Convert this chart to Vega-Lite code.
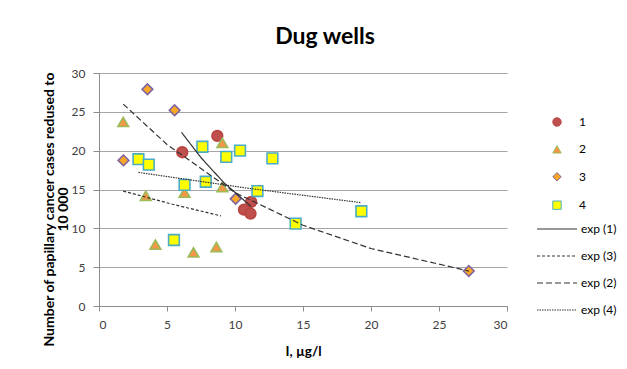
{
  "$schema": "https://vega.github.io/schema/vega-lite/v6.json",
  "width": 408,
  "height": 233,
  "autosize": {"type": "none"},
  "padding": {"left": 99, "top": 73, "right": 120, "bottom": 63},
  "background": "white",
  "title": {"text": "Dug wells", "fontSize": 23, "font": "Lato", "fontWeight": "bold", "color": "#000000", "dx": 22, "offset": 18, "anchor": "middle"},
  "datasets": {
    "pts": [
      {"x": 6.12, "y": 19.8, "series": "1"},
      {"x": 8.7, "y": 21.9, "series": "1"},
      {"x": 11.19, "y": 13.4, "series": "1"},
      {"x": 10.66, "y": 12.4, "series": "1"},
      {"x": 11.14, "y": 11.9, "series": "1"},
      {"x": 1.78, "y": 23.7, "series": "2"},
      {"x": 9.07, "y": 21.0, "series": "2"},
      {"x": 3.44, "y": 14.2, "series": "2"},
      {"x": 6.29, "y": 14.6, "series": "2"},
      {"x": 9.07, "y": 15.3, "series": "2"},
      {"x": 4.15, "y": 7.9, "series": "2"},
      {"x": 6.95, "y": 6.9, "series": "2"},
      {"x": 8.63, "y": 7.6, "series": "2"},
      {"x": 3.56, "y": 27.9, "series": "3"},
      {"x": 5.56, "y": 25.2, "series": "3"},
      {"x": 1.8, "y": 18.75, "series": "3"},
      {"x": 10.05, "y": 13.8, "series": "3"},
      {"x": 27.19, "y": 4.5, "series": "3"},
      {"x": 2.9, "y": 18.9, "series": "4"},
      {"x": 3.66, "y": 18.2, "series": "4"},
      {"x": 6.29, "y": 15.6, "series": "4"},
      {"x": 7.85, "y": 16.0, "series": "4"},
      {"x": 7.6, "y": 20.5, "series": "4"},
      {"x": 9.36, "y": 19.2, "series": "4"},
      {"x": 10.37, "y": 20.0, "series": "4"},
      {"x": 12.75, "y": 19.0, "series": "4"},
      {"x": 11.65, "y": 14.8, "series": "4"},
      {"x": 5.51, "y": 8.5, "series": "4"},
      {"x": 14.46, "y": 10.6, "series": "4"},
      {"x": 19.29, "y": 12.2, "series": "4"}
    ],
    "fits": [
      {"x": 6.07, "y": 22.35, "fit": "exp (1)"},
      {"x": 7.5, "y": 19.1, "fit": "exp (1)"},
      {"x": 9.17, "y": 15.9, "fit": "exp (1)"},
      {"x": 11.19, "y": 12.8, "fit": "exp (1)"},
      {"x": 1.78, "y": 14.8, "fit": "exp (3)"},
      {"x": 5.4, "y": 13.1, "fit": "exp (3)"},
      {"x": 8.97, "y": 11.6, "fit": "exp (3)"},
      {"x": 1.78, "y": 26.0, "fit": "exp (2)"},
      {"x": 5, "y": 20.8, "fit": "exp (2)"},
      {"x": 10, "y": 14.6, "fit": "exp (2)"},
      {"x": 15, "y": 10.4, "fit": "exp (2)"},
      {"x": 20, "y": 7.4, "fit": "exp (2)"},
      {"x": 27.2, "y": 4.5, "fit": "exp (2)"},
      {"x": 2.9, "y": 17.2, "fit": "exp (4)"},
      {"x": 11, "y": 15.15, "fit": "exp (4)"},
      {"x": 19.29, "y": 13.3, "fit": "exp (4)"}
    ]
  },
  "encoding": {
    "x": {"field": "x", "type": "quantitative", "scale": {"domain": [0, 30], "nice": false},
      "axis": {"title": "I, µg/l", "values": [0, 5, 10, 15, 20, 25, 30], "grid": false}},
    "y": {"field": "y", "type": "quantitative", "scale": {"domain": [0, 30], "nice": false},
      "axis": {"title": ["Number of papillary cancer cases redused to", "10 000"], "values": [0, 5, 10, 15, 20, 25, 30], "grid": true, "titleY": 136, "titleLineHeight": 14, "titleFontSize": 14}}
  },
  "layer": [
    {
      "data": {"name": "pts"},
      "mark": {"type": "point", "filled": true, "strokeWidth": 1.6, "opacity": 1, "size": 115},
      "encoding": {
        "shape": {"field": "series", "type": "nominal",
          "scale": {"domain": ["1", "2", "3", "4"], "range": ["circle", "triangle-up", "diamond", "square"]},
          "legend": {"title": null, "orient": "none", "legendX": 452, "legendY": 43, "symbolSize": 70, "labelOffset": 16, "rowPadding": 14.4, "labelFontSize": 12, "labelFont": "Lato", "labelColor": "#000000", "symbolStrokeWidth": 1}},
        "fill": {"field": "series", "type": "nominal",
          "scale": {"domain": ["1", "2", "3", "4"], "range": ["#C0504D", "#F79646", "#F9A825", "#FFFF00"]}},
        "stroke": {"field": "series", "type": "nominal",
          "scale": {"domain": ["1", "2", "3", "4"], "range": ["#B8433F", "#9BBB59", "#8064A2", "#4BACC6"]}}
      }
    },
    {
      "data": {"name": "fits"},
      "mark": {"type": "line", "color": "#333333", "strokeWidth": 1.2},
      "encoding": {
        "order": {"field": "x", "type": "quantitative"},
        "strokeDash": {"field": "fit", "type": "nominal",
          "scale": {"domain": ["exp (1)", "exp (3)", "exp (2)", "exp (4)"], "range": [[1, 0], [3, 2], [6, 3], [1.5, 1]]},
          "legend": {"title": null, "orient": "none", "legendX": 437, "legendY": 135, "symbolType": "stroke", "symbolSize": 1600, "symbolStrokeColor": "#333333", "symbolStrokeWidth": 1.2, "labelOffset": 3, "rowPadding": -2.7, "labelFontSize": 12, "labelFont": "Lato", "labelColor": "#000000"}}
      }
    }
  ],
  "config": {
    "font": "Lato",
    "view": {"stroke": null},
    "axis": {
      "domainColor": "#8C8C8C",
      "tickColor": "#8C8C8C",
      "gridColor": "#A6A6A6",
      "gridWidth": 1,
      "labelFontSize": 12,
      "labelColor": "#404040",
      "labelFont": "Lato",
      "titleFont": "Lato",
      "titleFontSize": 13.5,
      "titleFontWeight": "bold",
      "titleColor": "#000000"
    },
    "axisX": {"tickSize": 5, "labelPadding": 8, "titlePadding": 14},
    "axisY": {"tickSize": 6, "labelPadding": 8, "titlePadding": 1}
  }
}
